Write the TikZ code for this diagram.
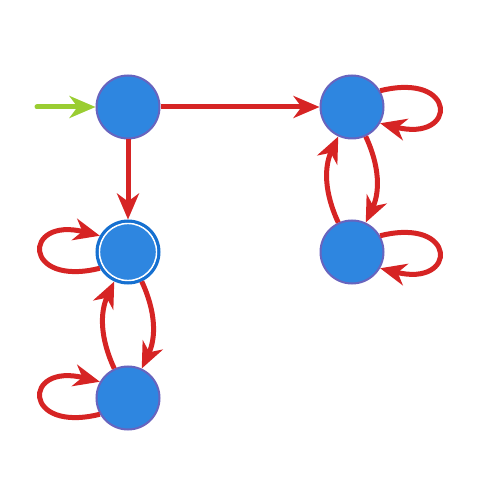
\documentclass[tikz,border=0pt]{standalone}
\usepackage{tikz}
\usetikzlibrary{arrows.meta}
\definecolor{statefill}{RGB}{46,134,224}
\definecolor{stateline}{RGB}{104,100,190}
\definecolor{acceptline}{RGB}{22,112,208}
\definecolor{transred}{RGB}{214,36,36}
\definecolor{initgreen}{RGB}{154,205,50}

\begin{document}
\begin{tikzpicture}[x=1pt,y=-1pt]
             \tikzstyle{state}=[circle,fill=statefill,draw=stateline,line width=2pt,minimum size=63pt,inner sep=0pt]
             \tikzstyle{accept}=[circle,fill=statefill,draw=acceptline,line width=3pt,minimum size=62pt,inner sep=0pt,
              path picture={\draw [white,line width=1.6pt] (path picture bounding box.center) circle (28.6pt);}]
             \tikzstyle{trans}=[draw=transred,line width=5pt,-{Stealth[length=26pt,width=22pt,inset=8pt]}]
             \tikzstyle{init}=[trans,draw=initgreen,line cap=round]
            \useasboundingbox (0,0) rectangle (490,486);
            \node [state] (q0) at (128,107) {};
            \node [state] (q1) at (352,107) {};
            \node [accept] (q2) at (128,252) {};
            \node [state] (q3) at (352,252) {};
            \node [state] (q4) at (128,398) {};
            \coordinate (start) at (37,107);
            \draw [init] (start) -- (q0);
            \draw [trans] (q0) -- (q1);
            \draw [trans] (q0) -- (q2);
            % right column
            \draw [trans] (q1) to [bend left=25] (q3);
            \draw [trans] (q3) to [bend left=25] (q1);
            \draw [trans] (q1.30) to [out=14,in=-14,looseness=1,min distance=80pt] (q1.-30);
            \draw [trans] (q3.30) to [out=14,in=-14,looseness=1,min distance=80pt] (q3.-30);
            % left column
            \draw [trans] (q2) to [bend left=25] (q4);
            \draw [trans] (q4) to [bend left=25] (q2);
            \draw [trans] (q2.210) to [out=194,in=166,looseness=1,min distance=80pt] (q2.150);
            \draw [trans] (q4.210) to [out=194,in=166,looseness=1,min distance=80pt] (q4.150);
         \end{tikzpicture}
\end{document}
